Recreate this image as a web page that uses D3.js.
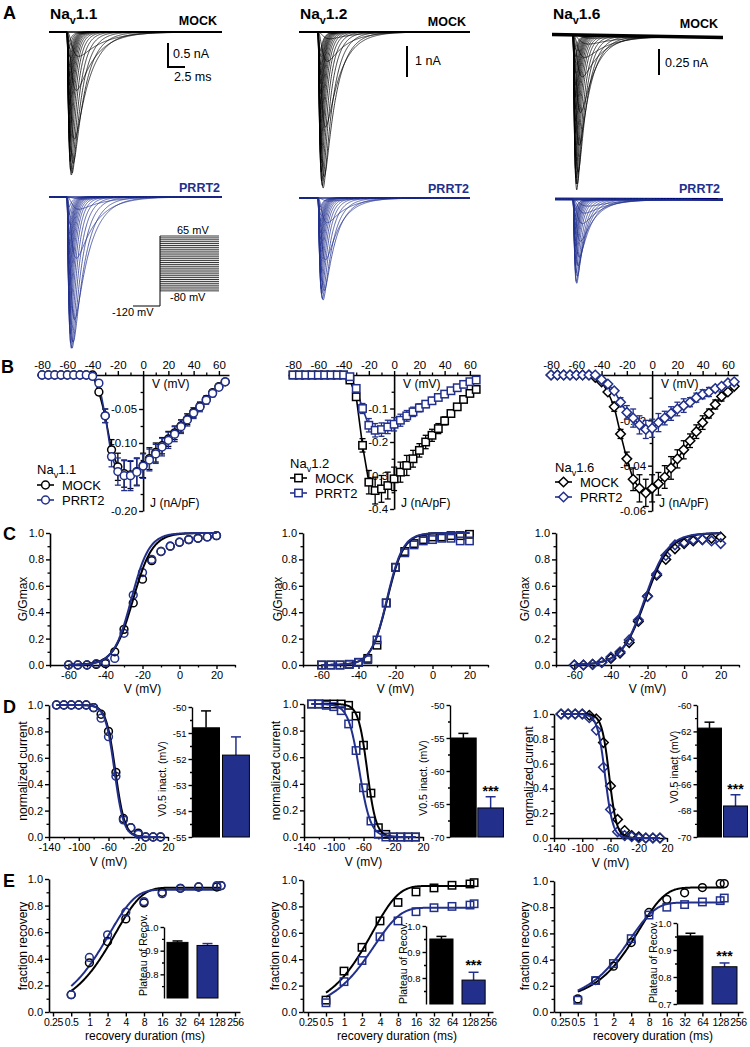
<!DOCTYPE html>
<html>
<head>
<meta charset="utf-8">
<script src="https://cdn.jsdelivr.net/npm/d3@7"></script>
<style>
html,body{margin:0;padding:0;background:#fff;}
svg{display:block;}
</style>
</head>
<body>
<svg id="fig" width="750" height="1047" xmlns="http://www.w3.org/2000/svg"></svg>
<script>
// ======================= DATA =======================
const channels = ["1.1", "1.2", "1.6"];
const groups = ["MOCK", "PRRT2"];

// A: current-trace families (peak amplitude of the largest trace, nA)
const tracePeakMock = [2.98, 5.03, 1.49];
const tracePeakPrrt = [3.15, 3.29, 0.81];
const scaleBarNA = [0.5, 1, 0.25];
const scaleBarMs = 2.5;
const holdingMV = -120;
const stepLabels = ["65 mV", "-80 mV", "-120 mV"];

// B: current density vs voltage (nA/pF)
const ivVoltages = [-80,-75,-70,-65,-60,-55,-50,-45,-40,-35,-30,-25,-20,-15,-10,-5,0,5,10,15,20,25,30,35,40,45,50,55,60,65];
const iv11Mock    = [0,0,0,0,0,0,0,0,0,-0.025,-0.06,-0.11,-0.135,-0.145,-0.147,-0.142,-0.133,-0.123,-0.114,-0.104,-0.094,-0.085,-0.075,-0.065,-0.055,-0.046,-0.036,-0.026,-0.017,-0.01];
const iv11MockErr = [0,0,0,0,0,0,0,0,0,0.005,0.01,0.015,0.02,0.02,0.02,0.02,0.018,0.016,0.014,0.012,0.011,0.01,0.009,0.008,0.007,0.006,0.005,0.004,0.004,0.003];
const iv11Prrt    = [0,0,0,0,0,0,0,0,-0.002,-0.012,-0.06,-0.12,-0.142,-0.148,-0.148,-0.143,-0.134,-0.125,-0.116,-0.106,-0.096,-0.087,-0.076,-0.066,-0.056,-0.047,-0.037,-0.027,-0.018,-0.01];
const iv11PrrtErr = [0,0,0,0,0,0,0,0,0,0.004,0.01,0.015,0.02,0.022,0.022,0.02,0.018,0.016,0.014,0.013,0.012,0.011,0.01,0.009,0.008,0.007,0.006,0.005,0.004,0.003];
const iv12Mock    = [0,0,0,0,0,0,0,0,0,-0.015,-0.065,-0.21,-0.32,-0.345,-0.34,-0.33,-0.31,-0.29,-0.27,-0.25,-0.225,-0.2,-0.18,-0.16,-0.137,-0.115,-0.095,-0.073,-0.055,-0.043];
const iv12MockErr = [0,0,0,0,0,0,0,0,0,0.004,0.01,0.02,0.035,0.04,0.04,0.04,0.035,0.03,0.03,0.025,0.02,0.02,0.018,0.015,0.012,0.01,0.008,0.006,0.006,0.006];
const iv12Prrt    = [0,0,0,0,0,0,0,0,0,-0.005,-0.04,-0.1,-0.15,-0.165,-0.163,-0.155,-0.147,-0.135,-0.122,-0.11,-0.098,-0.087,-0.077,-0.067,-0.057,-0.047,-0.038,-0.028,-0.02,-0.015];
const iv12PrrtErr = [0,0,0,0,0,0,0,0,0,0.003,0.008,0.015,0.02,0.02,0.02,0.02,0.02,0.018,0.016,0.014,0.012,0.01,0.01,0.008,0.007,0.006,0.005,0.004,0.004,0.003];
const iv16Mock    = [0,0,0,0,0,0,0,-0.001,-0.003,-0.0075,-0.014,-0.026,-0.037,-0.046,-0.05,-0.052,-0.05,-0.048,-0.045,-0.041,-0.037,-0.033,-0.029,-0.025,-0.021,-0.017,-0.013,-0.0095,-0.0075,-0.005];
const iv16MockErr = [0,0,0,0,0,0,0,0,0,0.001,0.002,0.002,0.003,0.005,0.006,0.006,0.006,0.005,0.005,0.005,0.004,0.004,0.003,0.003,0.003,0.002,0.002,0.002,0.001,0.001];
const iv16Prrt    = [0,0,0,0,0,0,0,0,-0.002,-0.004,-0.007,-0.012,-0.0165,-0.019,-0.022,-0.024,-0.0235,-0.021,-0.019,-0.017,-0.015,-0.0135,-0.012,-0.01,-0.0085,-0.0075,-0.006,-0.005,-0.0035,-0.003];
const iv16PrrtErr = [0,0,0,0,0,0,0,0,0,0.001,0.001,0.002,0.003,0.004,0.004,0.004,0.004,0.004,0.003,0.003,0.003,0.003,0.002,0.002,0.002,0.002,0.001,0.001,0.001,0.001];

// C: activation G/Gmax
const gvVoltages = [-60,-55,-50,-45,-40,-35,-30,-25,-20,-15,-10,-5,0,5,10,15,20];
const gv11Mock = [0,0,0,0.005,0.01,0.1,0.27,0.47,0.65,0.79,0.86,0.9,0.93,0.95,0.96,0.97,0.98];
const gv11Prrt = [0,0,0,0.01,0.02,0.05,0.24,0.53,0.7,0.8,0.86,0.9,0.93,0.95,0.96,0.97,0.98];
const gv12Mock = [0,0,0,0.005,0.02,0.05,0.15,0.47,0.74,0.86,0.92,0.95,0.97,0.97,0.98,0.98,0.99];
const gv12Prrt = [0,0,0,0.005,0.02,0.04,0.19,0.47,0.74,0.85,0.91,0.94,0.95,0.96,0.96,0.94,0.94];
const gv16Mock = [0,0,0.005,0.02,0.05,0.09,0.17,0.33,0.52,0.68,0.8,0.88,0.92,0.94,0.95,0.96,0.97];
const gv16Prrt = [0,0,0.005,0.02,0.06,0.1,0.19,0.34,0.52,0.69,0.83,0.91,0.93,0.95,0.95,0.94,0.92];
const gvFit11 = [[-25, 5.2], [-26, 4.8]];   // [V1/2, k]
const gvFit12 = [[-24.4, 4.4], [-24.6, 4.3]];
const gvFit16 = [[-21, 6.5], [-21.5, 6.3]];

// D: steady-state inactivation
const inactVoltages = [-130,-120,-110,-100,-90,-80,-70,-60,-50,-40,-30,-20,-10,0,10];
const inact11Mock = [1,1,1,1,1,0.98,0.93,0.8,0.49,0.14,0.07,0.03,0,0,0];
const inact11Prrt = [1,1,1,1,1,0.98,0.9,0.76,0.46,0.13,0.07,0.02,0,0,0];
const inact12Mock = [1,1,1,1,1,0.99,0.91,0.69,0.33,0.07,0.02,0,0,0,0];
const inact12Prrt = [1,1,0.99,0.98,0.95,0.85,0.65,0.37,0.12,0.02,0,0,0,0,0];
const inact16Mock = [1,1,1,1,0.99,0.96,0.77,0.42,0.15,0.06,0.02,0.01,0,0,0];
const inact16Prrt = [1,1,1,1,0.97,0.87,0.57,0.23,0.05,0.02,0.01,0,0,0,0];
const inactFit11 = [[-50.8, 6.3], [-51.9, 6.2]];
const inactFit12 = [[-55.0, 6.0], [-65.6, 7.5]];
const inactFit16 = [[-61.8, 5.3], [-67.6, 5.5]];
const v05Mean = [[-50.8, -51.85], [-55.0, -65.6], [-61.75, -67.65]];
const v05Err  = [[0.65, 0.7], [0.7, 1.7], [0.45, 0.85]];
const v05Sig  = ["", "***", "***"];

// E: recovery from inactivation
const recDurations = [0.5,1,2,4,8,16,32,64,128,150];
const rec11Mock = [0.13,0.37,0.53,0.7,0.82,0.9,0.93,0.94,0.94,0.95];
const rec11Prrt = [0.13,0.41,0.58,0.75,0.83,0.89,0.93,0.94,0.95,0.95];
const rec12Mock = [0.09,0.31,0.49,0.69,0.83,0.91,0.94,0.96,0.97,0.98];
const rec12Prrt = [0.07,0.23,0.39,0.57,0.69,0.76,0.79,0.8,0.81,0.82];
const rec16Mock = [0.1,0.24,0.35,0.53,0.76,0.86,0.91,0.95,0.98,0.98];
const rec16Prrt = [0.09,0.24,0.37,0.56,0.74,0.8,0.82,0.84,0.85,0.87];
const recFit11 = [[0, 0.935, 2.7], [0, 0.92, 2.1]];   // [y0, plateau, tau ms]
const recFit12 = [[0, 0.955, 3.0], [0, 0.79, 3.2]];
const recFit16 = [[0.08, 0.95, 5.5], [0.07, 0.835, 3.8]];
const plateauMean = [[0.935, 0.922], [0.95, 0.792], [0.952, 0.838]];
const plateauErr  = [[0.006, 0.008], [0.01, 0.03], [0.01, 0.014]];
const plateauSig  = ["", "***", "***"];
const durTicks = [0.25,0.5,1,2,4,8,16,32,64,128,256];

// ======================= SETUP =======================
const svg = d3.select("#fig");
const FONT = '"Liberation Sans", Arial, Helvetica, sans-serif';
const BLUE = "#22308c";
const COL = ["#000000", BLUE];

const iv = [
  {s: [iv11Mock, iv11Prrt], e: [iv11MockErr, iv11PrrtErr]},
  {s: [iv12Mock, iv12Prrt], e: [iv12MockErr, iv12PrrtErr]},
  {s: [iv16Mock, iv16Prrt], e: [iv16MockErr, iv16PrrtErr]}
];
const gv = [[gv11Mock, gv11Prrt], [gv12Mock, gv12Prrt], [gv16Mock, gv16Prrt]];
const gvFit = [gvFit11, gvFit12, gvFit16];
const inact = [[inact11Mock, inact11Prrt], [inact12Mock, inact12Prrt], [inact16Mock, inact16Prrt]];
const inactFit = [inactFit11, inactFit12, inactFit16];
const rec = [[rec11Mock, rec11Prrt], [rec12Mock, rec12Prrt], [rec16Mock, rec16Prrt]];
const recFit = [recFit11, recFit12, recFit16];
const shapes = ["circle", "square", "diamond"];
const recShapes = [["circle","circle"], ["square","square"], ["circle","square"]];

function text(x, y, s, o = {}) {
  const t = svg.append("text").attr("x", x).attr("y", y).text(s)
    .attr("font-family", FONT).attr("font-size", o.fs || 11)
    .attr("font-weight", o.fw || "normal").attr("fill", o.fill || "#000")
    .attr("text-anchor", o.anchor || "start");
  if (o.rot) t.attr("transform", `rotate(-90,${x},${y})`);
  return t;
}
function navText(x, y, num, fs, fw) {
  const t = svg.append("text").attr("x", x).attr("y", y).attr("font-family", FONT)
    .attr("font-size", fs).attr("font-weight", fw || "normal").attr("fill", "#000");
  t.append("tspan").text("Na");
  t.append("tspan").text("v").attr("font-size", fs * 0.7).attr("dy", fs * 0.3);
  t.append("tspan").text(num).attr("dy", -fs * 0.3);
}
function axisG(orient, scale, tx, ty, major, minor, fmt, o = {}) {
  const mk = orient === "left" ? d3.axisLeft : orient === "top" ? d3.axisTop : d3.axisBottom;
  const tl = o.tl || 4;
  const g = svg.append("g").attr("transform", `translate(${tx},${ty})`);
  if (minor && minor.length) {
    const m = g.append("g").call(mk(scale).tickValues(minor).tickFormat("").tickSize(o.mtl || 2.5).tickSizeOuter(0));
    m.select(".domain").remove();
    m.selectAll("line").attr("stroke", "#000").attr("stroke-width", 1.3);
  }
  const a = g.append("g").call(mk(scale).tickValues(major).tickFormat(fmt).tickSize(tl).tickSizeOuter(0).tickPadding(o.pad == null ? 2 : o.pad));
  a.select(".domain").attr("stroke", "#000").attr("stroke-width", o.sw || 1.6);
  a.selectAll(".tick line").attr("stroke", "#000").attr("stroke-width", 1.4);
  a.selectAll(".tick text").attr("font-size", o.fs || 11).attr("font-family", FONT).attr("fill", "#000");
  return a;
}
function marker(g, shape, x, y, color, fill) {
  const sw = 1.5;
  if (shape === "circle") return g.append("circle").attr("cx", x).attr("cy", y).attr("r", 3.9)
    .attr("fill", fill).attr("stroke", color).attr("stroke-width", sw);
  if (shape === "square") return g.append("rect").attr("x", x - 3.7).attr("y", y - 3.7).attr("width", 7.4).attr("height", 7.4)
    .attr("fill", fill).attr("stroke", color).attr("stroke-width", sw);
  return g.append("path").attr("d", `M${x},${y - 4.8}L${x + 4.8},${y}L${x},${y + 4.8}L${x - 4.8},${y}Z`)
    .attr("fill", fill).attr("stroke", color).attr("stroke-width", sw);
}
function curve(g, fn, xs, xScale, yScale, color, w) {
  const line = d3.line().x(v => xScale(v)).y(v => yScale(fn(v)));
  g.append("path").attr("d", line(xs)).attr("fill", "none").attr("stroke", color).attr("stroke-width", w || 2);
}

// ======================= PANEL LETTERS =======================
text(3, 19, "A", {fs: 18, fw: "bold"});
text(1, 373, "B", {fs: 18, fw: "bold"});
text(3, 540, "C", {fs: 18, fw: "bold"});
text(3, 713, "D", {fs: 18, fw: "bold"});
text(3, 887, "E", {fs: 18, fw: "bold"});

// ======================= A: TRACES =======================
const pxPerMs = 6.8;
const kin = {m0: 0.1, mA: 0.5, h0: 0.45, hA: 3.0, v0: -35, s: 18};
const LA = [
  {x0: [49, 49], x1: 222, onset: 67, baseY: [32, 197], pxPerNA: 48, drift: [0, 0], baseW: [1.5, 1.5],
   titleX: 50, mock: [217, 25], prrt: [220, 192], bar: [168, 43], barLbl: [173, 58]},
  {x0: [299, 299], x1: 470, onset: 318, baseY: [32, 198], pxPerNA: 31, drift: [0, 0], baseW: [2, 1.6],
   titleX: 300, mock: [466, 26], prrt: [469, 193], bar: [407, 46], barLbl: [415, 65]},
  {x0: [552, 555], x1: 723, onset: 573, baseY: [34.5, 199], pxPerNA: 104, drift: [3, 0.5], baseW: [3.5, 3],
   titleX: 553, mock: [718, 28], prrt: [720, 193], bar: [659, 49], barLbl: [665, 67]}
];
function drawTraces(c, gi, ivArr, peakNA) {
  const x0 = c.x0[gi], baseY = c.baseY[gi], drift = c.drift[gi];
  const tStart = -(c.onset - x0) / pxPerMs, tEnd = (c.x1 - c.onset) / pxPerMs;
  const xT = d3.scaleLinear().domain([tStart, tEnd]).range([x0, c.x1]);
  const yT = d3.scaleLinear().domain([0, -1]).range([baseY, baseY + c.pxPerNA]);
  const ts = d3.range(tStart, tEnd, 0.04).concat([tEnd]);
  const minIV = d3.min(ivArr);
  const g = svg.append("g");
  g.append("line").attr("x1", x0).attr("x2", c.x1).attr("y1", baseY).attr("y2", baseY + drift)
    .attr("stroke", COL[gi]).attr("stroke-width", c.baseW[gi]);
  ivVoltages.forEach((V, i) => {
    const amp = ivArr[i] / minIV * peakNA;
    if (amp <= 0) return;
    const e = Math.exp(-(V - kin.v0) / kin.s);
    const tm = kin.m0 + kin.mA * e, th = kin.h0 + kin.hA * e;
    const f = t => t <= 0 ? 0 : Math.pow(1 - Math.exp(-t / tm), 3) * Math.exp(-t / th);
    const fmax = d3.max(ts, f);
    const line = d3.line().x(t => xT(t)).y(t => yT(-amp * f(t) / fmax) + drift * (t - tStart) / (tEnd - tStart));
    g.append("path").attr("d", line(ts)).attr("fill", "none").attr("stroke", COL[gi]).attr("stroke-width", 0.75);
  });
  return yT;
}
LA.forEach((c, ci) => {
  navText(c.titleX, 19, channels[ci], 15.5, "bold");
  text(c.mock[0], c.mock[1], groups[0], {fs: 12.5, fw: "bold", anchor: "end"});
  text(c.prrt[0], c.prrt[1], groups[1], {fs: 12.5, fw: "bold", anchor: "end", fill: BLUE});
  drawTraces(c, 0, iv[ci].s[0], tracePeakMock[ci]);
  drawTraces(c, 1, iv[ci].s[1], tracePeakPrrt[ci]);
  // scale bar
  const barY = d3.scaleLinear().domain([0, scaleBarNA[ci]]).range([c.bar[1], c.bar[1] + scaleBarNA[ci] * c.pxPerNA]);
  svg.append("line").attr("x1", c.bar[0]).attr("x2", c.bar[0]).attr("y1", barY(0)).attr("y2", barY(scaleBarNA[ci]))
    .attr("stroke", "#000").attr("stroke-width", 2);
  text(c.barLbl[0], c.barLbl[1], scaleBarNA[ci] + " nA", {fs: 12.5});
  if (ci === 0) {
    const xb = d3.scaleLinear().domain([0, scaleBarMs]).range([c.bar[0], c.bar[0] + scaleBarMs * pxPerMs]);
    svg.append("line").attr("x1", xb(0) - 1).attr("x2", xb(scaleBarMs)).attr("y1", barY(scaleBarNA[ci])).attr("y2", barY(scaleBarNA[ci]))
      .attr("stroke", "#000").attr("stroke-width", 2);
    text(174, 81, scaleBarMs + " ms", {fs: 12.5});
  }
});
// voltage protocol inset
{
  const yP = d3.scaleLinear().domain([holdingMV, 65]).range([306, 236]);
  const g = svg.append("g");
  ivVoltages.forEach(V => {
    g.append("line").attr("x1", 160).attr("x2", 219).attr("y1", yP(V)).attr("y2", yP(V)).attr("stroke", "#000").attr("stroke-width", 0.8);
  });
  g.append("line").attr("x1", 160).attr("x2", 160).attr("y1", yP(holdingMV)).attr("y2", yP(65)).attr("stroke", "#000").attr("stroke-width", 1);
  g.append("line").attr("x1", 133).attr("x2", 160).attr("y1", yP(holdingMV)).attr("y2", yP(holdingMV)).attr("stroke", "#000").attr("stroke-width", 1);
  text(177, 234, stepLabels[0], {fs: 11});
  text(170, 301, stepLabels[1], {fs: 11});
  text(112, 316, stepLabels[2], {fs: 11});
}

// ======================= B: I-V =======================
const LB = [
  {xr: [37, 229], yr: [511, 375], ydom: [-0.2, 0], major: [-0.2, -0.15, -0.1, -0.05], minor: [-0.175, -0.125, -0.075, -0.025],
   fmt: v => v === -0.15 ? "" : v.toFixed(2), leg: {x: 37, t: 474, r: [485, 500]}},
  {xr: [288, 480], yr: [509, 375], ydom: [-0.4, 0], major: [-0.4, -0.3, -0.2, -0.1], minor: [-0.35, -0.25, -0.15, -0.05],
   fmt: v => v.toFixed(1), leg: {x: 290, t: 468, r: [478, 493]}},
  {xr: [546, 738], yr: [511, 375], ydom: [-0.06, 0], major: [-0.06, -0.04, -0.02], minor: [-0.05, -0.03, -0.01],
   fmt: v => v.toFixed(2), leg: {x: 555, t: 472, r: [482, 497]}}
];
LB.forEach((c, ci) => {
  const x = d3.scaleLinear().domain([-84, 68]).range(c.xr);
  const y = d3.scaleLinear().domain(c.ydom).range(c.yr);
  axisG("top", x, 0, y(0), [-80, -60, -40, -20, 0, 20, 40, 60], [-70, -50, -30, -10, 10, 30, 50], v => String(v), {fs: 11.5});
  axisG("left", y, x(0), 0, c.major, c.minor, c.fmt, {fs: 11.5});
  text(x(0) + 9, 388, "V (mV)", {fs: 12});
  text(x(0) + 7, 507, "J (nA/pF)", {fs: 12});
  const g = svg.append("g");
  [0, 1].forEach(gi => {
    const s = iv[ci].s[gi], e = iv[ci].e[gi];
    const line = d3.line().x((d, i) => x(ivVoltages[i])).y(d => y(d));
    g.append("path").attr("d", line(s)).attr("fill", "none").attr("stroke", COL[gi]).attr("stroke-width", 1.6);
    s.forEach((d, i) => {
      if (e[i] > 0) {
        const xx = x(ivVoltages[i]);
        g.append("line").attr("x1", xx).attr("x2", xx).attr("y1", y(d - e[i])).attr("y2", y(Math.min(0, d + e[i]))).attr("stroke", COL[gi]).attr("stroke-width", 1.3);
        [d - e[i], d + e[i]].forEach(v => { if (v <= 0) g.append("line").attr("x1", xx - 3).attr("x2", xx + 3).attr("y1", y(v)).attr("y2", y(v)).attr("stroke", COL[gi]).attr("stroke-width", 1.3); });
      }
    });
  });
  [0, 1].forEach(gi => {
    iv[ci].s[gi].forEach((d, i) => marker(g, shapes[ci], x(ivVoltages[i]), y(d), COL[gi], "#fff"));
  });
  // legend
  navText(c.leg.x, c.leg.t, channels[ci], 13);
  [0, 1].forEach(gi => {
    const yy = c.leg.r[gi];
    g.append("line").attr("x1", c.leg.x).attr("x2", c.leg.x + 17).attr("y1", yy).attr("y2", yy).attr("stroke", COL[gi]).attr("stroke-width", 1.6);
    marker(g, shapes[ci], c.leg.x + 8.5, yy, COL[gi], "#fff");
    text(c.leg.x + 25, yy + 4.5, groups[gi], {fs: 13});
  });
});

// ======================= C: activation =======================
const LC = [{xr: [50, 235], lab: 27}, {xr: [303, 488], lab: 282}, {xr: [556, 739], lab: 529}];
LC.forEach((c, ci) => {
  const x = d3.scaleLinear().domain([-70, 30]).range(c.xr);
  const y = d3.scaleLinear().domain([0, 1]).range([665, 533]);
  axisG("bottom", x, 0, 665, [-60, -40, -20, 0, 20], [-70, -50, -30, -10, 10, 30], v => String(v));
  axisG("left", y, c.xr[0], 0, [0, 0.2, 0.4, 0.6, 0.8, 1.0], [0.1, 0.3, 0.5, 0.7, 0.9], v => v.toFixed(1));
  text(x(-20), 693, "V (mV)", {fs: 12, anchor: "middle"});
  text(c.lab, 599, "G/Gmax", {fs: 12, anchor: "middle", rot: true});
  const g = svg.append("g");
  [0, 1].forEach(gi => gv[ci][gi].forEach((d, i) => marker(g, shapes[ci], x(gvVoltages[i]), y(d), COL[gi], "none")));
  const vs = d3.range(-60, 20.01, 0.5);
  [0, 1].forEach(gi => curve(g, V => 1 / (1 + Math.exp((gvFit[ci][gi][0] - V) / gvFit[ci][gi][1])), vs, x, y, COL[gi], 2));
});

// ======================= D: inactivation =======================
const LD = [
  {xr: [49, 168], yr: [837, 705], lab: 27, vlab: 866,
   bar: {band: [192, 250], pad: [0.1, 0.02], yr: [837, 707], dom: [-55, -50], major: [-55, -54, -53, -52, -51, -50], minor: [-54.5, -53.5, -52.5, -51.5, -50.5], lab: [166, 779], text: "V0.5 inact. (mV)"}},
  {xr: [304, 423], yr: [837, 704], lab: 280, vlab: 866,
   bar: {band: [450, 504], pad: [0.06, 0.02], yr: [837, 705], dom: [-70, -50], major: [-70, -65, -60, -55, -50], minor: [-67.5, -62.5, -57.5, -52.5], lab: [427, 778], text: "V0.5 inact. (mV)"}},
  {xr: [554, 667], yr: [838, 714], lab: 533, vlab: 867,
   bar: {band: [697, 748], pad: [0.08, 0.02], yr: [837, 705], dom: [-70, -60], major: [-70, -68, -66, -64, -62, -60], minor: [-69, -67, -65, -63, -61], lab: [678, 767], text: "V0.5 inact (mV)"}}
];
LD.forEach((c, ci) => {
  const x = d3.scaleLinear().domain([-140, 20]).range(c.xr);
  const y = d3.scaleLinear().domain([0, 1]).range(c.yr);
  axisG("bottom", x, 0, c.yr[0], [-140, -100, -60, -20, 20], [-120, -80, -40, 0], v => String(v));
  axisG("left", y, c.xr[0], 0, [0, 0.2, 0.4, 0.6, 0.8, 1.0], [0.1, 0.3, 0.5, 0.7, 0.9], v => v.toFixed(1));
  text(x(-60), c.vlab, "V (mV)", {fs: 12, anchor: "middle"});
  text(c.lab, (c.yr[0] + c.yr[1]) / 2, "normalized current", {fs: 12, anchor: "middle", rot: true});
  const g = svg.append("g");
  [0, 1].forEach(gi => inact[ci][gi].forEach((d, i) => marker(g, shapes[ci], x(inactVoltages[i]), y(d), COL[gi], "none")));
  const vs = d3.range(-130, 10.01, 0.5);
  [0, 1].forEach(gi => curve(g, V => 1 / (1 + Math.exp((V - inactFit[ci][gi][0]) / inactFit[ci][gi][1])), vs, x, y, COL[gi], 2));
  // bar inset
  const b = c.bar;
  const bx = d3.scaleBand().domain(groups).range(b.band).paddingInner(b.pad[0]).paddingOuter(b.pad[1]);
  const by = d3.scaleLinear().domain(b.dom).range(b.yr);
  axisG("left", by, b.band[0], 0, b.major, b.minor, v => String(v), {fs: 9.5, tl: 3.5, mtl: 2, sw: 1.4});
  text(b.lab[0], b.lab[1], b.text, {fs: 10.5, anchor: "middle", rot: true});
  groups.forEach((grp, gi) => {
    const m = v05Mean[ci][gi], e = v05Err[ci][gi], cx = bx(grp) + bx.bandwidth() / 2;
    g.append("line").attr("x1", cx).attr("x2", cx).attr("y1", by(m)).attr("y2", by(m + e)).attr("stroke", COL[gi]).attr("stroke-width", 1.5);
    g.append("line").attr("x1", cx - 5).attr("x2", cx + 5).attr("y1", by(m + e)).attr("y2", by(m + e)).attr("stroke", COL[gi]).attr("stroke-width", 1.5);
    g.append("rect").attr("x", bx(grp)).attr("width", bx.bandwidth()).attr("y", by(m)).attr("height", by(b.dom[0]) - by(m))
      .attr("fill", COL[gi]).attr("stroke", "#000").attr("stroke-width", 1);
    if (gi === 1 && v05Sig[ci]) text(cx, by(m + e) - 1, v05Sig[ci], {fs: 14, fw: "bold", anchor: "middle"});
  });
});

// ======================= E: recovery =======================
const LE = [
  {xr: [53, 235], ax: [49, 240], yr: [1012, 879], lab: 27, tx: 145,
   ins: {band: [164, 221], pad: [0.3, 0.1], yr: [998, 927], major: [0.8, 0.9, 1.0], minor: [0.75, 0.85, 0.95], lab: [147, 955]}},
  {xr: [308, 488], ax: [303, 493], yr: [1012, 880], lab: 279, tx: 397,
   ins: {band: [426, 489], pad: [0.28, 0.12], yr: [1004, 926], major: [0.8, 0.9, 1.0], minor: [0.75, 0.85, 0.95], lab: [407, 963]}},
  {xr: [560, 738], ax: [554, 743], yr: [1012, 881], lab: 529, tx: 653,
   ins: {band: [677, 738], pad: [0.27, 0.03], yr: [1004, 923], major: [0.7, 0.8, 0.9, 1.0], minor: [0.75, 0.85, 0.95], lab: [657, 962]}}
];
LE.forEach((c, ci) => {
  const x = d3.scaleLog().base(2).domain([0.25, 256]).range(c.xr);
  const xAx = d3.scaleLog().base(2).domain([x.invert(c.ax[0]), x.invert(c.ax[1])]).range(c.ax);
  const y = d3.scaleLinear().domain([0, 1]).range(c.yr);
  const xa = axisG("bottom", xAx, 0, c.yr[0], durTicks, [], v => String(v), {tl: 4.5, fs: 10.5, pad: 2.5});
  xa.selectAll(".tick text").attr("letter-spacing", -0.3);
  axisG("left", y, c.ax[0], 0, [0, 0.2, 0.4, 0.6, 0.8, 1.0], [0.1, 0.3, 0.5, 0.7, 0.9], v => v.toFixed(1));
  text(c.tx, 1040, "recovery duration (ms)", {fs: 12, anchor: "middle"});
  text(c.lab, 946, "fraction recovery", {fs: 12, anchor: "middle", rot: true});
  const g = svg.append("g");
  const ts = d3.range(0, 1.0001, 0.005).map(f => 0.5 * Math.pow(300, f));
  [0, 1].forEach(gi => curve(g, t => { const p = recFit[ci][gi]; return p[0] + (p[1] - p[0]) * (1 - Math.exp(-t / p[2])); }, ts, x, y, COL[gi], 2));
  [0, 1].forEach(gi => rec[ci][gi].forEach((d, i) => marker(g, recShapes[ci][gi], x(recDurations[i]), y(d), COL[gi], "none")));
  // inset
  const b = c.ins;
  const bx = d3.scaleBand().domain(groups).range(b.band).paddingInner(b.pad[0]).paddingOuter(b.pad[1]);
  const by = d3.scaleLinear().domain([0.7, 1.0]).range(b.yr);
  axisG("left", by, b.band[0], 0, b.major, b.minor, v => v.toFixed(1), {fs: 9.5, tl: 3.5, mtl: 2, sw: 1.4});
  text(b.lab[0], b.lab[1], "Plateau of Recov.", {fs: 10.5, anchor: "middle", rot: true});
  groups.forEach((grp, gi) => {
    const m = plateauMean[ci][gi], e = plateauErr[ci][gi], cx = bx(grp) + bx.bandwidth() / 2;
    g.append("line").attr("x1", cx).attr("x2", cx).attr("y1", by(m)).attr("y2", by(m + e)).attr("stroke", COL[gi]).attr("stroke-width", 1.5);
    g.append("line").attr("x1", cx - 5).attr("x2", cx + 5).attr("y1", by(m + e)).attr("y2", by(m + e)).attr("stroke", COL[gi]).attr("stroke-width", 1.5);
    g.append("rect").attr("x", bx(grp)).attr("width", bx.bandwidth()).attr("y", by(m)).attr("height", by(0.7) - by(m))
      .attr("fill", COL[gi]).attr("stroke", "#000").attr("stroke-width", 1);
    if (gi === 1 && plateauSig[ci]) text(cx, by(m + e) - 2, plateauSig[ci], {fs: 14, fw: "bold", anchor: "middle"});
  });
});
</script>
